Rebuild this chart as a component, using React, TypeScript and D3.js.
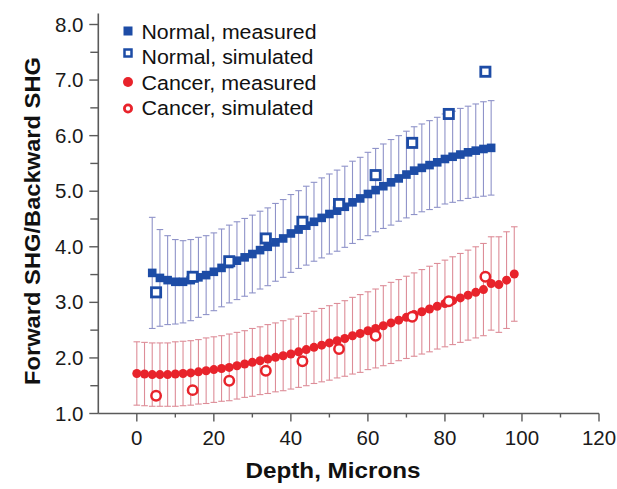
import * as d3 from "d3";

const W = 617;
const H = 489;
const FONT = "'Liberation Sans', Arial, Helvetica, sans-serif";

// Normal tissue, measured (depth in microns)
const normalDepth = [
  4, 6, 8, 10, 12, 14, 16, 18, 20, 22, 24, 26, 28, 30, 32, 34, 36, 38, 40, 42, 44, 46, 48,
  50, 52, 54, 56, 58, 60, 62, 64, 66, 68, 70, 72, 74, 76, 78, 80, 82, 84, 86, 88, 90, 92,
];
const normalMeasured = [
  3.53, 3.44, 3.4, 3.37, 3.37, 3.4, 3.45, 3.49, 3.55, 3.62, 3.69, 3.75, 3.81, 3.87, 3.94,
  4.0, 4.08, 4.15, 4.24, 4.31, 4.38, 4.45, 4.52, 4.59, 4.65, 4.72, 4.8, 4.87, 4.95, 5.02,
  5.09, 5.16, 5.23, 5.3, 5.37, 5.42, 5.47, 5.52, 5.58, 5.62, 5.66, 5.7, 5.73, 5.76, 5.78,
];
const normalErr = [
  1.0, 0.87, 0.8, 0.76, 0.74, 0.73, 0.72, 0.71, 0.7, 0.7, 0.7, 0.7, 0.7, 0.7, 0.7, 0.7,
  0.7, 0.7, 0.7, 0.7, 0.71, 0.71, 0.72, 0.72, 0.73, 0.73, 0.74, 0.74, 0.75, 0.75, 0.76,
  0.77, 0.77, 0.78, 0.79, 0.79, 0.8, 0.81, 0.81, 0.82, 0.83, 0.83, 0.84, 0.85, 0.85,
];

// Normal tissue, simulated
const normalSimDepth = [5, 14.5, 24, 33.5, 43, 52.5, 62, 71.5, 81, 90.5];
const normalSimulated = [3.18, 3.46, 3.74, 4.15, 4.45, 4.77, 5.29, 5.87, 6.39, 7.15];

// Cancer tissue, measured
const cancerDepth = [
  0, 2, 4, 6, 8, 10, 12, 14, 16, 18, 20, 22, 24, 26, 28, 30, 32, 34, 36, 38, 40, 42, 44, 46,
  48, 50, 52, 54, 56, 58, 60, 62, 64, 66, 68, 70, 72, 74, 76, 78, 80, 82, 84, 86, 88, 90,
  92, 94, 96, 98,
];
const cancerMeasured = [
  1.72, 1.71, 1.7, 1.7, 1.7, 1.71, 1.72, 1.73, 1.75, 1.77, 1.79, 1.81, 1.83, 1.86, 1.89,
  1.92, 1.95, 1.98, 2.01, 2.04, 2.07, 2.11, 2.15, 2.19, 2.23, 2.27, 2.31, 2.35, 2.4, 2.44,
  2.49, 2.53, 2.58, 2.63, 2.68, 2.73, 2.78, 2.83, 2.88, 2.93, 2.98, 3.03, 3.08, 3.13, 3.18,
  3.23, 3.34, 3.32, 3.4, 3.51,
];
const cancerErr = [
  0.57, 0.57, 0.57, 0.57, 0.57, 0.58, 0.58, 0.58, 0.58, 0.59, 0.59, 0.59, 0.6, 0.6, 0.6,
  0.61, 0.61, 0.62, 0.62, 0.63, 0.63, 0.64, 0.65, 0.65, 0.66, 0.67, 0.67, 0.68, 0.69, 0.7,
  0.7, 0.71, 0.72, 0.73, 0.73, 0.74, 0.75, 0.76, 0.77, 0.77, 0.78, 0.79, 0.8, 0.81, 0.82,
  0.83, 0.84, 0.86, 0.87, 0.85,
];

// Cancer tissue, simulated
const cancerSimDepth = [5, 14.5, 24, 33.5, 43, 52.5, 62, 71.5, 81, 90.5];
const cancerSimulated = [1.32, 1.42, 1.59, 1.77, 1.94, 2.16, 2.4, 2.74, 3.02, 3.46];

const xTicks = [0, 20, 40, 60, 80, 100, 120];
const xMinorTicks = [10, 30, 50, 70, 90, 110];
const yTicks = [1, 2, 3, 4, 5, 6, 7, 8];
const yMinorTicks = [1.5, 2.5, 3.5, 4.5, 5.5, 6.5, 7.5];

const legendLabels = [
  "Normal, measured",
  "Normal, simulated",
  "Cancer, measured",
  "Cancer, simulated",
];

const BLUE = "#1d4ca6";
const RED = "#e8232b";
const BLUE_BAR = "#8f93c9";
const RED_BAR = "#dd8d98";
const AXIS = "#5a5a5a";

export default function App() {
  const x = d3.scaleLinear().domain([-10, 120]).range([98.3, 599]);
  const y = d3.scaleLinear().domain([1, 8]).range([413.5, 24.5]);
  const x0 = x(-10);
  const y0 = y(1);

  const errBars = (depths: number[], vals: number[], errs: number[], color: string) =>
    depths.map((d, i) => {
      const cx = x(d);
      const top = y(vals[i] + errs[i]);
      const bot = y(vals[i] - errs[i]);
      return (
        <g key={`e${color}${i}`} stroke={color} strokeWidth={1.1}>
          <line x1={cx} x2={cx} y1={top} y2={bot} />
          <line x1={cx - 3.3} x2={cx + 3.3} y1={top} y2={top} />
          <line x1={cx - 3.3} x2={cx + 3.3} y1={bot} y2={bot} />
        </g>
      );
    });

  const legendMarker = (i: number, cx: number, cy: number) => {
    if (i === 0) return <rect x={cx - 4.5} y={cy - 4.5} width={9} height={9} fill={BLUE} />;
    if (i === 1)
      return (
        <rect x={cx - 3.5} y={cy - 3.5} width={7} height={7} fill="white" stroke={BLUE} strokeWidth={2.5} />
      );
    if (i === 2) return <circle cx={cx} cy={cy} r={5} fill={RED} />;
    return <circle cx={cx} cy={cy} r={3.6} fill="white" stroke={RED} strokeWidth={2.8} />;
  };
  const legendDy = [-7.5, -11, -7.5, -6.5];

  return (
    <svg
      width={W}
      height={H}
      style={{ position: "absolute", left: 0, top: 0, background: "white" }}
      fontFamily={FONT}
    >
      {/* error bars */}
      {errBars(normalDepth, normalMeasured, normalErr, BLUE_BAR)}
      {errBars(cancerDepth, cancerMeasured, cancerErr, RED_BAR)}

      {/* measured */}
      {normalDepth.map((d, i) => (
        <rect
          key={`nm${i}`}
          x={x(d) - 4.3}
          y={y(normalMeasured[i]) - 4.3}
          width={8.6}
          height={8.6}
          fill={BLUE}
        />
      ))}
      {cancerDepth.map((d, i) => (
        <circle key={`cm${i}`} cx={x(d)} cy={y(cancerMeasured[i])} r={4.5} fill={RED} />
      ))}

      {/* simulated */}
      {normalSimDepth.map((d, i) => (
        <rect
          key={`ns${i}`}
          x={x(d) - 4.6}
          y={y(normalSimulated[i]) - 4.6}
          width={9.2}
          height={9.2}
          fill="white"
          stroke={BLUE}
          strokeWidth={2.8}
        />
      ))}
      {cancerSimDepth.map((d, i) => (
        <circle
          key={`cs${i}`}
          cx={x(d)}
          cy={y(cancerSimulated[i])}
          r={4.7}
          fill="white"
          stroke={RED}
          strokeWidth={2.5}
        />
      ))}

      {/* axes */}
      <line x1={x0} x2={x0} y1={y(8.2)} y2={y0} stroke={AXIS} strokeWidth={1.6} />
      <line x1={x0} x2={x(120)} y1={y0} y2={y0} stroke={AXIS} strokeWidth={1.6} />
      {yTicks.map((t) => (
        <g key={`yt${t}`}>
          <line x1={x0 - 9} x2={x0} y1={y(t)} y2={y(t)} stroke={AXIS} strokeWidth={1.4} />
          <text x={83.5} y={y(t) + 7} textAnchor="end" fontSize={20.5} fill="#1a1a1a">
            {t.toFixed(1)}
          </text>
        </g>
      ))}
      {yMinorTicks.map((t) => (
        <line key={`ym${t}`} x1={x0 - 8} x2={x0} y1={y(t)} y2={y(t)} stroke={AXIS} strokeWidth={1.4} />
      ))}
      {xTicks.map((t) => (
        <g key={`xt${t}`}>
          <line x1={x(t)} x2={x(t)} y1={y0} y2={y0 + 8} stroke={AXIS} strokeWidth={1.4} />
          <text x={x(t)} y={445} textAnchor="middle" fontSize={20.5} fill="#1a1a1a">
            {t}
          </text>
        </g>
      ))}
      {xMinorTicks.map((t) => (
        <line key={`xm${t}`} x1={x(t)} x2={x(t)} y1={y0} y2={y0 + 4} stroke={AXIS} strokeWidth={1.4} />
      ))}

      {/* axis titles */}
      <text
        x={333}
        y={478}
        textAnchor="middle"
        fontSize={22}
        fontWeight="bold"
        fill="#111"
        textLength={175}
        lengthAdjust="spacingAndGlyphs"
      >
        Depth, Microns
      </text>
      <text
        transform="translate(40, 221) rotate(-90)"
        textAnchor="middle"
        fontSize={22}
        fontWeight="bold"
        fill="#111"
        textLength={328}
        lengthAdjust="spacingAndGlyphs"
      >
        Forward SHG/Backward SHG
      </text>

      {/* legend */}
      {legendLabels.map((label, i) => {
        const base = 38.5 + i * 25.5;
        return (
          <g key={label}>
            {legendMarker(i, 128, base + legendDy[i])}
            <text
              x={141.5}
              y={base}
              fontSize={20.5}
              fill="#111"
              textLength={i === 0 || i === 2 ? 175 : 172}
              lengthAdjust="spacingAndGlyphs"
            >
              {label}
            </text>
          </g>
        );
      })}
    </svg>
  );
}
